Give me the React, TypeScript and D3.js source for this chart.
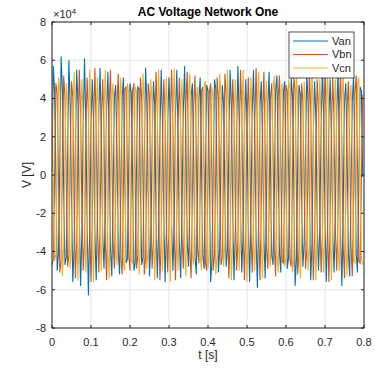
import React, { useEffect, useRef } from "react";
import * as d3 from "d3";

// phase voltages in kV, one sample every 1/300 s
const SAMPLE_STEP = 1 / 300;

const van = [
  2, 57, 44, -1, -50, -41, 4, 62, 45, -9, -47, -43, 13, 60, 36, -12, -56, -39,
  15, 55, 37, -21, -58, -30, 24, 61, 28, -22, -63, -29, 25, 50, 27, -31, -55, -20,
  33, 56, 18, -31, -49, -19, 34, 54, 17, -39, -53, -10, 41, 47, 11, -40, -52, -8,
  41, 51, 2, -46, -44, 1, 48, 43, 0, -50, -46, 3, 46, 45, -9, -47, -43, 12,
  56, 37, -11, -53, -35, 13, 49, 37, -20, -54, -31, 19, 55, 28, -21, -56, -30, 28,
  51, 28, -26, -50, -25, 32, 55, 19, -35, -54, -16, 33, 57, 17, -35, -48, -15, 41,
  48, 8, -43, -52, -5, 40, 51, 7, -42, -49, -4, 47, 44, 1, -56, -46, 2, 50,
  45, -8, -51, -39, 11, 47, 37, -10, -48, -39, 13, 55, 37, -19, -55, -31, 22, 57,
  29, -20, -51, -31, 23, 50, 28, -25, -56, -22, 32, 55, 20, -34, -59, -21, 36, 49,
  18, -34, -54, -12, 36, 54, 9, -42, -47, -10, 44, 52, 8, -41, -51, -1, 43, 49,
  -2, -49, -43, 5, 51, 41, -4, -58, -44, 6, 47, 42, -13, -48, -36, 12, 54, 38,
  -14, -55, -36, 21, 49, 30, -24, -50, -28, 22, 57, 29, -24, -56, -27, 31, 50, 20,
  -33, -51, -18, 31, 55, 19, -33, -58, -17, 39, 48, 10, -41, -53, -7, 39, 52, 8,
  -41, -51, -6, 46, 44, -1,
];

const vbn = [
  -47, -44,
  -2, 48, 43, -1, -51, -45, 8, 52, 40, -6, -48, -42, 9, 49, 41, -16, -54, -34,
  18, 55, 32, -17, -50, -35, 20, 51, 33, -26, -56, -25, 28, 56, 23, -27, -51, -24,
  29, 50, 22, -35, -55, -15, 37, 55, 13, -35, -49, -14, 37, 53, 11, -43, -52, -4,
  45, 46, 2, -42, -50, -3, 44, 48, -4, -49, -42, 7, 51, 40, -5, -52, -43, 8,
  48, 41, -15, -49, -35, 17, 54, 33, -16, -55, -35, 19, 50, 32, -25, -51, -26, 28,
  55, 24, -30, -55, -21, 28, 51, 23, -31, -49, -20, 37, 54, 13, -39, -54, -11, 37,
  52, 12, -39, -46, -9, 44, 46, 3, -46, -50, 0, 43, 48, -3, -50, -42, 6, 51,
  41, -4, -47, -43, 7, 53, 41, -14, -54, -35, 17, 50, 33, -15, -50, -35, 18, 55,
  33, -24, -55, -27, 27, 51, 24, -29, -51, -26, 28, 56, 24, -30, -55, -17, 32, 54,
  14, -38, -49, -16, 40, 48, 13, -38, -53, -6, 40, 52, 4, -45, -46, -5, 47, 44,
  2, -44, -48, 1, 51, 45, -8, -52, -40, 10, 48, 38, -9, -49, -40, 12, 54, 34,
  -18, -55, -32, 17, 50, 34, -20, -51, -32, 26, 56, 25, -28, -56, -23, 27, 51, 24,
  -29, -50, -22, 35, 54, 15, -37, -54, -13, 35, 49, 14, -37, -53, -11, 43, 52, 4,
  -45, -46, -2, 42,
];

const vcn = [
  47, -5, -45, -41,
  4, 51, 44, -10, -53, -38, 13, 48, 36, -12, -49, -38, 14, 54, 36, -21, -55, -30,
  24, 50, 28, -22, -51, -29, 24, 55, 27, -31, -56, -20, 33, 51, 18, -31, -50, -19,
  33, 55, 17, -39, -54, -10, 41, 48, 7, -39, -47, -8, 41, 51, 6, -46, -50, 1,
  48, 43, 0, -45, -46, 3, 46, 44, -9, -52, -39, 12, 53, 37, -11, -49, -39, 13,
  50, 37, -20, -55, -31, 23, 55, 28, -21, -50, -30, 24, 51, 28, -30, -56, -21, 32,
  56, 19, -31, -50, -20, 33, 50, 17, -39, -53, -11, 41, 53, 8, -43, -47, -9, 40,
  46, 7, -42, -50, 0, 47, 49, -3, -49, -42, 6, 46, 41, -4, -52, -43, 7, 53,
  41, -14, -48, -35, 17, 55, 33, -15, -55, -35, 18, 50, 33, -24, -50, -27, 27, 55,
  24, -25, -56, -26, 28, 51, 24, -34, -50, -17, 36, 54, 14, -34, -54, -16, 36, 49,
  13, -42, -48, -6, 44, 52, 4, -41, -51, -5, 43, 48, 2, -48, -43, 1, 50, 45,
  -8, -51, -44, 10, 53, 38, -9, -54, -36, 12, 49, 38, -18, -50, -36, 21, 55, 30,
  -20, -55, -28, 22, 50, 29, -28, -51, -27, 31, 56, 20, -29, -55, -18, 31, 50, 19,
  -37, -50, -17, 39, 54, 10, -37, -53, -7, 39, 47, 8, -45, -46, -6, 46, 51, -1,
  -44, -47,
];

const seriesNames = ["Van", "Vbn", "Vcn"];
const seriesColors = ["#0072BD", "#D95319", "#EDB120"];

const xTicks = [0, 0.1, 0.2, 0.3, 0.4, 0.5, 0.6, 0.7, 0.8];
const yTicks = [-8, -6, -4, -2, 0, 2, 4, 6, 8]; // x 10^4

const App = () => {
  const svgRef = useRef<SVGSVGElement>(null);

  useEffect(() => {
    const width = 375;
    const height = 371;
    const margin = { top: 22, right: 11, bottom: 43, left: 52 };
    const font = "'Liberation Sans', Arial, Helvetica, sans-serif";
    const axisColor = "#262626";

    const svg = d3.select(svgRef.current);
    svg.selectAll("*").remove();
    svg.attr("width", width).attr("height", height);

    svg.append("rect").attr("width", width).attr("height", height).attr("fill", "#fff");

    const x = d3.scaleLinear().domain([0, 0.8]).range([margin.left, width - margin.right]);
    const y = d3.scaleLinear().domain([-8e4, 8e4]).range([height - margin.bottom, margin.top]);
    const [x0, x1] = x.range();
    const [yb, yt] = y.range();

    // grid
    const grid = svg.append("g").attr("stroke", "#e3e3e3").attr("stroke-width", 1);
    xTicks.forEach((t) => {
      grid.append("line").attr("x1", x(t)).attr("x2", x(t)).attr("y1", yt).attr("y2", yb);
    });
    yTicks.forEach((t) => {
      grid.append("line").attr("x1", x0).attr("x2", x1).attr("y1", y(t * 1e4)).attr("y2", y(t * 1e4));
    });

    // signals
    svg
      .append("clipPath")
      .attr("id", "plot-clip")
      .append("rect")
      .attr("x", x0)
      .attr("y", yt)
      .attr("width", x1 - x0)
      .attr("height", yb - yt);

    const line = d3
      .line<number>()
      .x((_, i) => x(i * SAMPLE_STEP))
      .y((d) => y(d * 1000));

    const plot = svg.append("g").attr("clip-path", "url(#plot-clip)");
    [van, vbn, vcn].forEach((series, i) => {
      plot
        .append("path")
        .datum(series)
        .attr("d", line)
        .attr("fill", "none")
        .attr("stroke", seriesColors[i])
        .attr("stroke-width", 1.1);
    });

    // axes box + inward ticks
    svg
      .append("rect")
      .attr("x", x0)
      .attr("y", yt)
      .attr("width", x1 - x0)
      .attr("height", yb - yt)
      .attr("fill", "none")
      .attr("stroke", axisColor)
      .attr("stroke-width", 1);

    const ticks = svg.append("g").attr("stroke", axisColor).attr("stroke-width", 1);
    xTicks.forEach((t) => {
      ticks.append("line").attr("x1", x(t)).attr("x2", x(t)).attr("y1", yb).attr("y2", yb - 3);
      ticks.append("line").attr("x1", x(t)).attr("x2", x(t)).attr("y1", yt).attr("y2", yt + 3);
    });
    yTicks.forEach((t) => {
      ticks.append("line").attr("x1", x0).attr("x2", x0 + 3).attr("y1", y(t * 1e4)).attr("y2", y(t * 1e4));
      ticks.append("line").attr("x1", x1).attr("x2", x1 - 3).attr("y1", y(t * 1e4)).attr("y2", y(t * 1e4));
    });

    const labels = svg.append("g").style("font-family", font).attr("fill", axisColor);

    xTicks.forEach((t) => {
      labels
        .append("text")
        .attr("x", x(t))
        .attr("y", yb + 18)
        .attr("text-anchor", "middle")
        .style("font-size", "11px")
        .text(String(t));
    });

    yTicks.forEach((t) => {
      labels
        .append("text")
        .attr("x", x0 - 6)
        .attr("y", y(t * 1e4))
        .attr("dy", "0.35em")
        .attr("text-anchor", "end")
        .style("font-size", "11px")
        .text(String(t));
    });

    // exponent
    const expo = labels.append("text").attr("x", x0 + 1).attr("y", 18).style("font-size", "11px");
    expo.append("tspan").text("\u00d710");
    expo.append("tspan").attr("dy", -4).style("font-size", "8px").text("4");

    // axis titles
    labels
      .append("text")
      .attr("x", (x0 + x1) / 2)
      .attr("y", yb + 31)
      .attr("text-anchor", "middle")
      .style("font-size", "12px")
      .text("t [s]");

    labels
      .append("text")
      .attr("transform", `translate(31, ${(yt + yb) / 2}) rotate(-90)`)
      .attr("text-anchor", "middle")
      .style("font-size", "12px")
      .text("V [V]");

    // title
    svg
      .append("text")
      .attr("x", (x0 + x1) / 2)
      .attr("y", 16)
      .attr("text-anchor", "middle")
      .style("font-family", font)
      .style("font-size", "12px")
      .style("font-weight", "bold")
      .attr("fill", "#000")
      .text("AC Voltage Network One");

    // legend
    const legend = svg.append("g").attr("transform", "translate(289, 32)");
    legend
      .append("rect")
      .attr("width", 65)
      .attr("height", 46)
      .attr("fill", "#fff")
      .attr("stroke", axisColor)
      .attr("stroke-width", 0.8);

    seriesNames.forEach((name, i) => {
      const rowY = 9 + i * 13.5;
      legend
        .append("line")
        .attr("x1", 4)
        .attr("x2", 39)
        .attr("y1", rowY)
        .attr("y2", rowY)
        .attr("stroke", seriesColors[i])
        .attr("stroke-width", 1);
      legend
        .append("text")
        .attr("x", 43)
        .attr("y", rowY)
        .attr("dy", "0.35em")
        .style("font-family", font)
        .style("font-size", "11px")
        .attr("fill", axisColor)
        .text(name);
    });
  }, []);

  return (
    <svg
      ref={svgRef}
      style={{ position: "absolute", left: 0, top: 0, display: "block" }}
    ></svg>
  );
};

export default App;
